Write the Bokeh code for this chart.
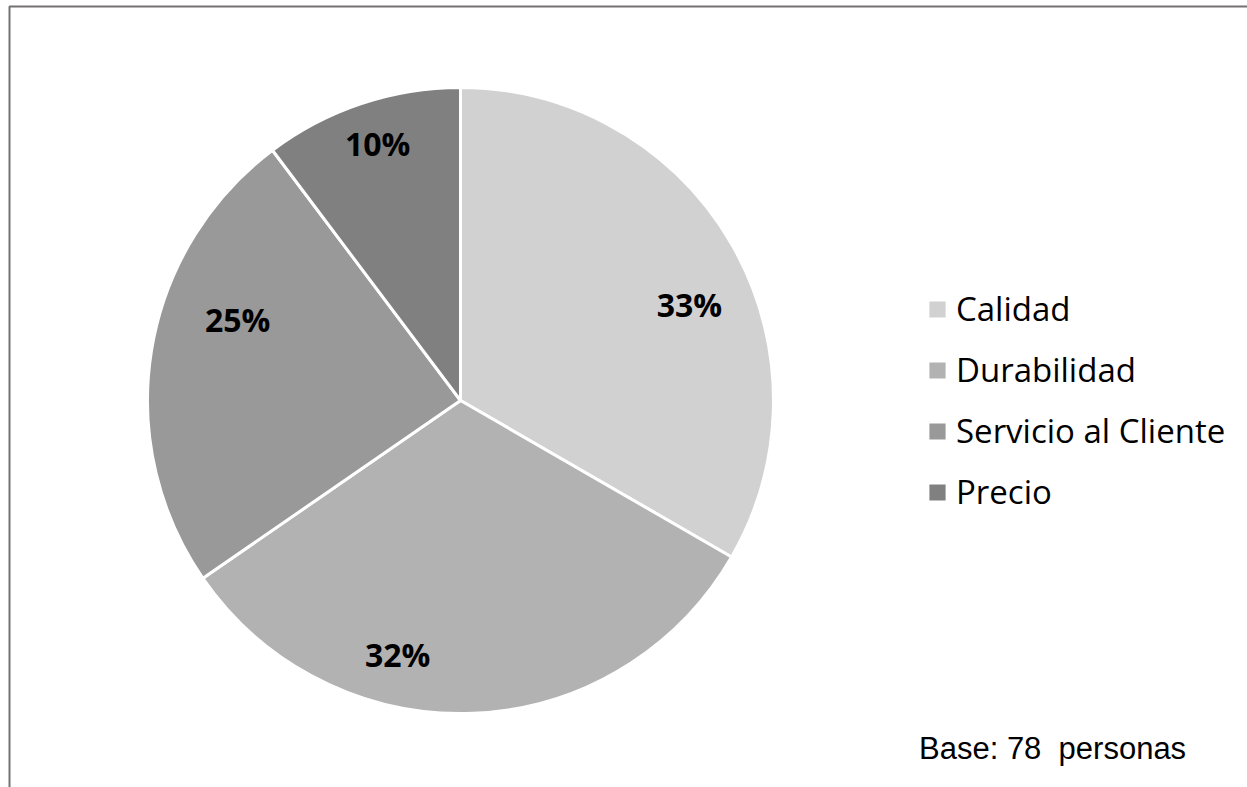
import math
from bokeh.plotting import figure
from bokeh.models import (Range1d, Legend, LegendItem, BoxAnnotation,
                          ColumnDataSource, Label)
from bokeh.embed import file_html
from bokeh.resources import INLINE
from bokeh.core.properties import value

# ---------------- data ----------------
categories = ["Calidad", "Durabilidad", "Servicio al Cliente", "Precio"]
counts = [26, 25, 19, 8]                  # base: 78 personas
pct_labels = ["33%", "32%", "25%", "10%"]
base_text = "Base: 78\u00a0 personas"

# ---------------- style / layout ----------------
colors = ["#D1D1D1", "#B2B2B2", "#999999", "#808080"]
W, H = 1247, 787
CX, CY, R = 460, H - 400, 313
label_angle_shift_deg = [7.3, 16.2, 10.8, 0.6]
label_radius_frac = [0.793, 0.836, 0.758, 0.863]

total = float(sum(counts))
starts, ends, lx, ly = [], [], [], []
cum = 0.0
for i, c in enumerate(counts):
    a0 = cum / total * 360.0
    cum += c
    a1 = cum / total * 360.0
    starts.append(math.pi / 2 - math.radians(a0))
    ends.append(math.pi / 2 - math.radians(a1))
    mid = math.radians((a0 + a1) / 2 + label_angle_shift_deg[i])
    rr = R * label_radius_frac[i]
    lx.append(CX + rr * math.sin(mid))
    ly.append(CY + rr * math.cos(mid))

src = ColumnDataSource(dict(cat=categories, start=starts, end=ends,
                            color=colors, lx=lx, ly=ly, txt=pct_labels))

p = figure(width=W, height=H, output_backend="svg", toolbar_location=None,
           x_range=Range1d(0, W), y_range=Range1d(0, H),
           min_border=0, outline_line_color=None)
p.axis.visible = False
p.grid.visible = False
p.background_fill_color = "white"
p.border_fill_color = "white"

r = p.wedge(x=CX, y=CY, radius=R, start_angle="start", end_angle="end",
            direction="clock", fill_color="color", line_color="white",
            line_width=3, source=src)

p.text(x="lx", y="ly", text="txt", source=src, text_font=value("Open Sans"),
       text_font_style="bold", text_font_size="32px", text_color="black",
       text_align="center", text_baseline="middle")

items = [LegendItem(label=categories[i], renderers=[r], index=i)
         for i in range(len(categories))]
legend = Legend(items=items, location=(925, 273), orientation="vertical",
                padding=0, margin=0, spacing=16, glyph_width=24,
                glyph_height=24, label_standoff=7,
                label_text_font="Open Sans", label_text_font_size="33px",
                label_text_color="black", border_line_alpha=0,
                background_fill_alpha=0)
p.add_layout(legend, "center")

p.add_layout(Label(x=918.5, y=H - 748, text=base_text,
                   text_font="Liberation Sans", text_font_size="31px",
                   text_color="black", text_baseline="alphabetic"))

frame = BoxAnnotation(left=9, right=W + 20, top=H - 6, bottom=-20,
                      fill_alpha=0, line_color="#757171", line_alpha=1.0,
                      line_width=2)
p.add_layout(frame)

open("out.html", "w").write(file_html(p, INLINE))
